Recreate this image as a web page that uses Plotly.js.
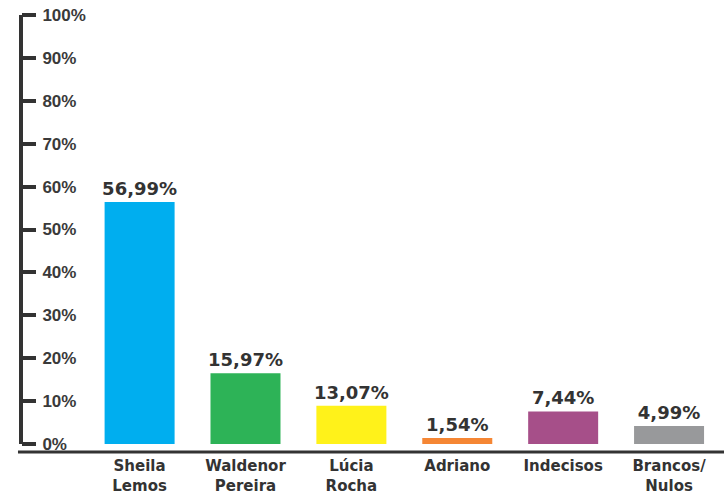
<!DOCTYPE html>
<html>
<head>
<meta charset="utf-8">
<script src="https://cdn.plot.ly/plotly-3.0.1.min.js"></script>
<style>
  html, body { margin: 0; padding: 0; background: #ffffff; }
  #chart { width: 724px; height: 497px; }
</style>
</head>
<body>
<div id="chart"></div>
<script>
// Categories (two-line labels)
const categories = ["Sheila<br>Lemos", "Waldenor<br>Pereira", "Lúcia<br>Rocha", "Adriano", "Indecisos", "Brancos/<br>Nulos"];
// Bar heights as drawn in the picture (%)
const barHeights = [56.4, 16.5, 8.9, 1.4, 7.6, 4.2];
// Printed value labels
const valueLabels = ["56,99%", "15,97%", "13,07%", "1,54%", "7,44%", "4,99%"];
// Bar colours
const barColors = ["#00AEEF", "#2DB357", "#FFF21A", "#F58634", "#A64F89", "#98999B"];
// Y tick values and labels
const yTickVals = [0, 10, 20, 30, 40, 50, 60, 70, 80, 90, 100];
const yTickText = ["0%", "10%", "20%", "30%", "40%", "50%", "60%", "70%", "80%", "90%", "100%"];

const dark = "#333333";

const trace = {
  type: "bar",
  x: categories,
  y: barHeights,
  text: valueLabels,
  textposition: "outside",
  constraintext: "none",
  cliponaxis: false,
  textfont: { family: "DejaVu Sans", size: 18, color: dark, weight: "bold" },
  marker: { color: barColors, line: { width: 0 } },
  hoverinfo: "none"
};

const layout = {
  width: 724,
  height: 497,
  margin: { l: 21, r: 2, t: 10, b: 45 },
  paper_bgcolor: "#ffffff",
  plot_bgcolor: "#ffffff",
  showlegend: false,
  bargap: 0.339,
  xaxis: {
    type: "category",
    range: [-1.12, 5.5],
    showline: false,
    showgrid: false,
    zeroline: false,
    ticks: "",
    ticklabelstandoff: 3,
    tickfont: { family: "DejaVu Sans", size: 15, color: dark, weight: "bold" },
    fixedrange: true
  },
  yaxis: {
    range: [-1.86, 101.17],
    side: "right",
    anchor: "free",
    position: 0,
    tickvals: yTickVals,
    ticktext: yTickText,
    showline: false,
    showgrid: false,
    zeroline: false,
    ticks: "outside",
    ticklen: 14,
    tickwidth: 4,
    tickcolor: dark,
    ticklabelstandoff: 3,
    tickfont: { family: "Liberation Sans", size: 17, color: "#3a3a3a", weight: "bold" },
    fixedrange: true
  },
  shapes: [
    { type: "line", xref: "paper", yref: "y", x0: 0, x1: 0, y0: 0, y1: 100,
      line: { color: dark, width: 4 } },
    { type: "line", xref: "paper", yref: "paper", x0: -0.0043, x1: 1.003, y0: 0, y1: 0,
      line: { color: dark, width: 3 } }
  ]
};

Plotly.newPlot("chart", [trace], layout, { displayModeBar: false, staticPlot: true });
</script>
</body>
</html>
